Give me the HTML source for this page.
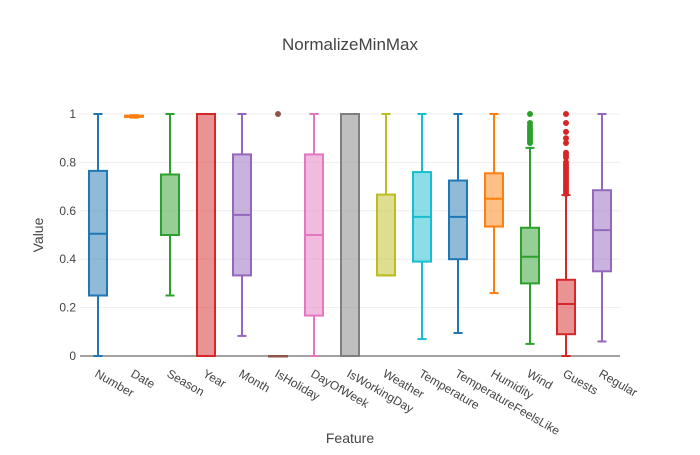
<!DOCTYPE html>
<html><head><meta charset="utf-8"><style>
body{margin:0;background:#fff;font-family:"Liberation Sans",Arial,sans-serif;}
text{font-family:"Liberation Sans",Arial,sans-serif;fill:#444;}
</style></head><body>
<svg id="chart" width="700" height="450" xmlns="http://www.w3.org/2000/svg">
<text x="350" y="50" text-anchor="middle" font-size="17">NormalizeMinMax</text>
<g id="grid"></g><g id="boxes"></g><g id="xt"></g><g id="yt"></g>
<text x="350" y="443" text-anchor="middle" font-size="14">Feature</text>
<text transform="translate(43,235) rotate(-90)" text-anchor="middle" font-size="14">Value</text>
</svg>
<script>
const categories=["Number","Date","Season","Year","Month","IsHoliday","DayOfWeek","IsWorkingDay","Weather","Temperature","TemperatureFeelsLike","Humidity","Wind","Guests","Regular"];
const mins=[0,0.985,0.25,0,0.083,0,0,0,0.333,0.07,0.095,0.26,0.05,0,0.06];
const q1s=[0.25,0.988,0.5,0,0.333,0,0.167,0,0.333,0.39,0.40,0.535,0.30,0.09,0.35];
const medians=[0.505,0.99,0.75,1,0.583,0,0.5,1,0.333,0.575,0.575,0.65,0.41,0.215,0.52];
const q3s=[0.765,0.993,0.75,1,0.833,0,0.833,1,0.667,0.76,0.725,0.755,0.53,0.315,0.685];
const maxs=[1,0.995,1,1,1,0,1,1,1,1,1,1,0.86,0.665,1];
const outliersWind=[1,0.963,0.95,0.94,0.93,0.92,0.91,0.90,0.89,0.88];
const outliersGuests=[1,0.963,0.926,0.90,0.88,0.84,0.83,0.82,0.80,0.79,0.78,0.77,0.76,0.75,0.74,0.73,0.72,0.71,0.70,0.69,0.68,0.67];
const outliersHoliday=[1];
const yTicks=[0,0.2,0.4,0.6,0.8,1];
const yTickLabels=["0","0.2","0.4","0.6","0.8","1"];
const colors=["#1f77b4","#ff7f0e","#2ca02c","#d62728","#9467bd","#8c564b","#e377c2","#7f7f7f","#bcbd22","#17becf"];
const NS="http://www.w3.org/2000/svg";
const x0=80,x1=620,yb=356,yt=114;
const step=(x1-x0)/categories.length;
const xs=i=>x0+step*(i+0.5);
const ys=v=>yb-(yb-yt)*v;
function mk(tag,attrs,parent){const e=document.createElementNS(NS,tag);for(const k in attrs)e.setAttribute(k,attrs[k]);parent.appendChild(e);return e;}
const grid=document.getElementById('grid'),boxes=document.getElementById('boxes'),xt=document.getElementById('xt'),ytg=document.getElementById('yt');
yTicks.forEach((v,i)=>{
 const l=mk('line',{x1:x0,x2:x1,y1:ys(v),y2:ys(v),stroke:v===0?'#444':'#eee','stroke-width':1},grid);
 
 
 const t=mk('text',{x:x0-4,y:ys(v)+4,'text-anchor':'end','font-size':12},ytg);
 t.textContent=yTickLabels[i];
 
 
});
const outl={5:outliersHoliday,12:outliersWind,13:outliersGuests};
categories.forEach((c,i)=>{
 const col=colors[i%10],cx=xs(i),w=18;
 const g=mk('g',{},boxes);
 
 
 mk('line',{x1:cx,x2:cx,y1:ys(maxs[i]),y2:ys(q3s[i]),stroke:col,'stroke-width':2},g);
 mk('line',{x1:cx,x2:cx,y1:ys(q1s[i]),y2:ys(mins[i]),stroke:col,'stroke-width':2},g);
 mk('line',{x1:cx-w/4,x2:cx+w/4,y1:ys(maxs[i]),y2:ys(maxs[i]),stroke:col,'stroke-width':2},g);
 mk('line',{x1:cx-w/4,x2:cx+w/4,y1:ys(mins[i]),y2:ys(mins[i]),stroke:col,'stroke-width':2},g);
 mk('rect',{x:cx-w/2,y:ys(q3s[i]),width:w,height:Math.max(ys(q1s[i])-ys(q3s[i]),0.5),fill:col,'fill-opacity':0.5,stroke:col,'stroke-width':2},g);
 mk('line',{x1:cx-w/2,x2:cx+w/2,y1:ys(medians[i]),y2:ys(medians[i]),stroke:col,'stroke-width':2},g);
 (outl[i]||[]).forEach(v=>{const p=mk('circle',{cx:cx,cy:ys(v),r:3,fill:col},g);
  
  });
 const t=mk('text',{transform:`translate(${cx-4},${yb+20}) rotate(30)`,'font-size':12},xt);
 t.textContent=c;
 
 
});
</script>
</body></html>
